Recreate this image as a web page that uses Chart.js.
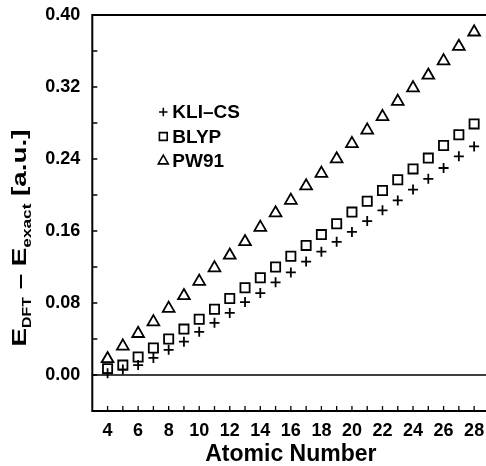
<!DOCTYPE html>
<html lang="en">
<head>
    <meta charset="UTF-8">
    <title>E(DFT) - E(exact) vs atomic number</title>
    <script src="https://cdn.jsdelivr.net/npm/chart.js@4.4.1/dist/chart.umd.min.js"></script>
    <style>
        html, body { margin: 0; padding: 0; overflow: hidden; background: #fff; }
        #chart-container { position: relative; width: 498px; height: 466px; }
    </style>
</head>
<body>
<div id="chart-container"><canvas id="myChart" width="498" height="466"></canvas></div>

<script>
    // atomic numbers Z = 4 .. 28
    const atomicNumbers = [4, 5, 6, 7, 8, 9, 10, 11, 12, 13, 14, 15, 16, 17, 18, 19, 20, 21, 22, 23, 24, 25, 26, 27, 28];

    // E_DFT - E_exact in a.u.
    const kliCs = [0.002, 0.006, 0.011, 0.019, 0.028, 0.037, 0.048, 0.058, 0.069, 0.081, 0.091, 0.103, 0.114,
                   0.126, 0.137, 0.148, 0.159, 0.171, 0.183, 0.194, 0.206, 0.218, 0.230, 0.243, 0.254];
    const blyp  = [0.007, 0.011, 0.020, 0.030, 0.040, 0.051, 0.062, 0.073, 0.085, 0.097, 0.108, 0.120, 0.132,
                   0.144, 0.156, 0.168, 0.181, 0.193, 0.205, 0.217, 0.229, 0.241, 0.255, 0.267, 0.279];
    const pw91  = [0.018, 0.032, 0.046, 0.059, 0.074, 0.088, 0.104, 0.119, 0.133, 0.148, 0.164, 0.180, 0.194,
                   0.210, 0.224, 0.240, 0.257, 0.272, 0.287, 0.304, 0.319, 0.333, 0.349, 0.365, 0.381];

    const seriesLabels = ['KLI\u2013CS', 'BLYP', 'PW91'];
    const seriesStyles = ['cross', 'rect', 'triangle'];
    const seriesRadius = [5, 6.5, 6.8];

    const FONT = "'Liberation Sans', Arial, Helvetica, sans-serif";
    Chart.defaults.font.family = FONT;
    Chart.defaults.color = '#000';

    function toPoints(ys) {
        return atomicNumbers.map(function (z, i) { return { x: z, y: ys[i] }; });
    }

    const datasets = [kliCs, blyp, pw91].map(function (ys, i) {
        return {
            label: seriesLabels[i],
            data: toPoints(ys),
            pointStyle: seriesStyles[i],
            pointRadius: seriesRadius[i],
            pointBorderWidth: 1.8,
            pointBorderColor: '#000',
            pointBackgroundColor: 'rgba(0,0,0,0)',
            showLine: false
        };
    });

    // frame, inward ticks and the zero line
    const framePlugin = {
        id: 'frame',
        beforeDatasetsDraw: function (chart) {
            const ctx = chart.ctx;
            const a = chart.chartArea;
            const xs = chart.scales.x, ys = chart.scales.y;
            ctx.save();
            ctx.strokeStyle = '#000';

            // y = 0
            ctx.lineWidth = 1.5;
            const y0 = ys.getPixelForValue(0);
            ctx.beginPath();
            ctx.moveTo(a.left, y0);
            ctx.lineTo(a.right, y0);
            ctx.stroke();

            ctx.lineWidth = 1.3;
            ctx.beginPath();
            xs.ticks.forEach(function (t) {
                if (t.value <= xs.min || t.value >= xs.max) return;
                const px = xs.getPixelForValue(t.value);
                ctx.moveTo(px, a.bottom);
                ctx.lineTo(px, a.bottom - 5);
            });
            ys.ticks.forEach(function (t) {
                if (t.value <= ys.min || t.value >= ys.max) return;
                const py = ys.getPixelForValue(t.value);
                ctx.moveTo(a.left, py);
                ctx.lineTo(a.left + 5, py);
            });
            ctx.stroke();

            ctx.lineWidth = 2;
            ctx.strokeRect(a.left, a.top, a.right - a.left, a.bottom - a.top);
            ctx.restore();
        }
    };

    // legend inside the plot and the two axis titles
    const labelsPlugin = {
        id: 'labels',
        afterDraw: function (chart) {
            const ctx = chart.ctx;
            const a = chart.chartArea;
            ctx.save();
            ctx.fillStyle = '#000';
            ctx.strokeStyle = '#000';

            // legend
            const lx = a.left + 71, ly = a.top + 97, rowH = 24.5;
            chart.data.datasets.forEach(function (ds, i) {
                const y = ly + i * rowH;
                ctx.save();
                ctx.fillStyle = 'rgba(0,0,0,0)';
                ctx.lineWidth = 1.6;
                Chart.helpers.drawPoint(ctx, {
                    pointStyle: ds.pointStyle,
                    radius: ds.pointRadius * 0.85,
                    borderWidth: 1.6,
                    rotation: 0
                }, lx, y);
                ctx.restore();
                ctx.font = 'bold 19px ' + FONT;
                ctx.textAlign = 'left';
                ctx.textBaseline = 'middle';
                ctx.fillText(ds.label, lx + 9, y + 1);
            });

            // x title
            ctx.font = 'bold 23px ' + FONT;
            ctx.textAlign = 'center';
            ctx.textBaseline = 'middle';
            ctx.fillText('Atomic Number', chart.scales.x.getPixelForValue(16), 455);

            // y title with subscripts, rotated
            const parts = [
                { t: 'E', size: 21, dy: 0 },
                { t: 'DFT', size: 12, dy: 5 },
                { t: ' \u2013 ', size: 21, dy: 0 },
                { t: 'E', size: 21, dy: 0 },
                { t: 'exact', size: 13, dy: 5 },
                { t: ' [a.u.]', size: 21, dy: 0 }
            ];
            let total = 0;
            parts.forEach(function (p) {
                ctx.font = 'bold ' + p.size + 'px ' + FONT;
                p.w = ctx.measureText(p.t).width;
                total += p.w;
            });
            const span = 217;
            ctx.translate(26, 238);
            ctx.rotate(-Math.PI / 2);
            ctx.scale(span / total, 1);
            ctx.textAlign = 'left';
            ctx.textBaseline = 'alphabetic';
            let cx = -total / 2;
            parts.forEach(function (p) {
                ctx.font = 'bold ' + p.size + 'px ' + FONT;
                ctx.fillText(p.t, cx, p.dy);
                cx += p.w;
            });
            ctx.restore();
        }
    };

    const ctx = document.getElementById('myChart');
    const myChart = new Chart(ctx, {
        type: 'scatter',
        data: { datasets: datasets },
        options: {
            responsive: false,
            animation: false,
            devicePixelRatio: 1,
            layout: { padding: { left: 0, right: 2.5, top: 15, bottom: 0 } },
            plugins: {
                legend: { display: false },
                tooltip: { enabled: false }
            },
            scales: {
                x: {
                    type: 'linear',
                    min: 3,
                    max: 29,
                    grid: { display: false, drawTicks: false, tickLength: 0 },
                    border: { display: false },
                    ticks: {
                        stepSize: 1,
                        autoSkip: false,
                        maxRotation: 0,
                        padding: 9,
                        font: { size: 18, weight: 'bold' },
                        color: '#000',
                        callback: function (v) {
                            return (v % 2 === 0 && v >= 4 && v <= 28) ? String(v) : '';
                        }
                    },
                    afterFit: function (scale) {
                        scale.height = 55;
                        scale.paddingLeft = 0;
                        scale.paddingRight = 0;
                    }
                },
                y: {
                    min: -0.04,
                    max: 0.40,
                    grid: { display: false, drawTicks: false, tickLength: 0 },
                    border: { display: false },
                    ticks: {
                        stepSize: 0.04,
                        autoSkip: false,
                        padding: 12,
                        font: { size: 18, weight: 'bold' },
                        color: '#000',
                        callback: function (v) {
                            const n = Math.round(v * 100);
                            return (n >= 0 && n % 8 === 0) ? (n / 100).toFixed(2) : '';
                        }
                    },
                    afterFit: function (scale) {
                        scale.width = 92.3;
                        scale.paddingTop = 0;
                        scale.paddingBottom = 0;
                    }
                }
            }
        },
        plugins: [framePlugin, labelsPlugin]
    });
</script>
</body>
</html>
